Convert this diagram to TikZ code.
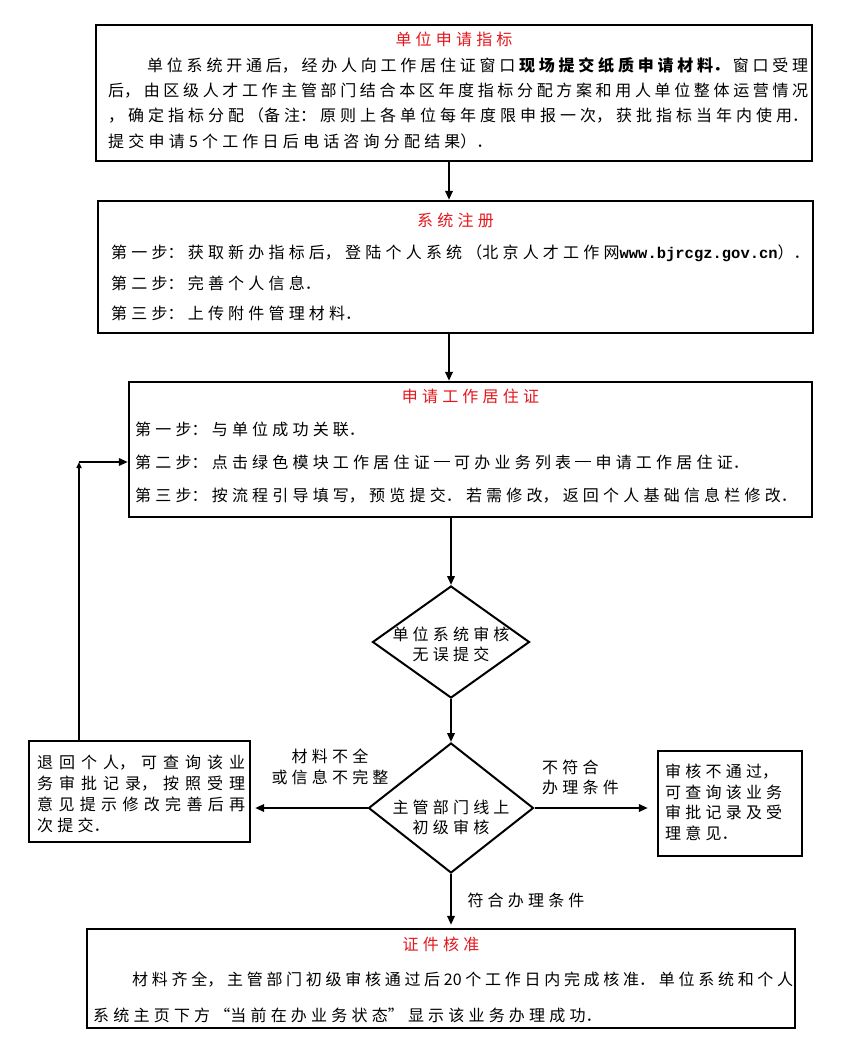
\documentclass[tikz,border=0pt]{standalone}
\usepackage{fontspec}
\setmainfont{Noto Sans CJK SC}
\newfontfamily\urlf{Liberation Mono}
\usetikzlibrary{arrows.meta,shapes.geometric}
\XeTeXlinebreaklocale "zh"
\XeTeXlinebreakskip=4.2pt plus 3pt minus 2.5pt
\definecolor{titlered}{RGB}{228,22,28}
\setlength{\parindent}{0pt}
\newcommand\jline[1]{\leftskip=0pt\rightskip=0pt\parfillskip=0pt\relax #1\par}
\newcommand\rline[1]{\leftskip=0pt\rightskip=0pt plus 1fil\parfillskip=0pt plus 1fil\relax #1\par}
\newcommand\ctrline[1]{\leftskip=0pt plus 1fil\rightskip=0pt plus 1fil\parfillskip=0pt\relax #1\par}
\newcommand\cjkgap{\hskip 4.2pt plus 3pt minus 2.5pt\relax}
\newcommand\cjkdash{\rule[5.6pt]{16pt}{1pt}}
\tikzset{
  box/.style={draw, rectangle, line width=2.4pt, inner sep=0pt},
  dia/.style={draw, diamond, line width=2pt, inner sep=0pt},
  arr/.style={line width=2pt, -{Triangle[length=9pt,width=7.5pt]}},
  txt/.style={inner sep=0pt, anchor=west, text width=#1},
  txt/.default=700pt,
  ctxt/.style={inner sep=0pt, anchor=center, text width=#1},
  ctxt/.default=400pt,
  every node/.style={font=\fontsize{16}{19}\selectfont}
}
\begin{document}
\begin{tikzpicture}[x=1pt,y=-1pt]
\useasboundingbox[fill=white] (0,0) rectangle (842,1046);

% ---- box 1
\node[box, minimum width=716pt, minimum height=136pt] (b1) at (454,93) {};
\node[ctxt] (b1t) at (454,39) {\ctrline{\color{titlered}单位申请指标}};
\node[txt=661pt] (b1a) at (147,65) {\jline{单位系统开通后，经办人向工作居住证窗口\cjkgap{\bfseries 现场提交纸质申请材料．}\cjkgap 窗口受理}};
\node[txt=700pt] (b1b) at (108,91) {\jline{后，由区级人才工作主管部门结合本区年度指标分配方案和用人单位整体运营情况}};
\node[txt=700pt] (b1c) at (108,116) {\jline{，确定指标分配（备注：原则上各单位每年度限申报一次，获批指标当年内使用．}};
\node[txt] (b1d) at (108,141) {\rline{提交申请5个工作日后电话咨询分配结果）．}};

% ---- box 2
\node[box, minimum width=715pt, minimum height=132pt] (b2) at (455.5,267) {};
\node[ctxt] (b2t) at (455.5,220) {\ctrline{\color{titlered}系统注册}};
\node[txt] (b2a) at (111,253) {\rline{第一步：获取新办指标后，登陆个人系统（北京人才工作网{\urlf\bfseries\fontsize{15.5}{18}\selectfont www.bjrcgz.gov.cn}）．}};
\node[txt] (b2b) at (111,283) {\rline{第二步：完善个人信息．}};
\node[txt] (b2c) at (111,313) {\rline{第三步：上传附件管理材料．}};

% ---- box 3
\node[box, minimum width=683pt, minimum height=135pt] (b3) at (470.5,449.5) {};
\node[ctxt] (b3t) at (470.5,396) {\ctrline{\color{titlered}申请工作居住证}};
\node[txt] (b3a) at (135,429) {\rline{第一步：与单位成功关联．}};
\node[txt] (b3b) at (135,462) {\rline{第二步：点击绿色模块工作居住证\cjkgap\cjkdash\cjkgap 可办业务列表\cjkgap\cjkdash\cjkgap 申请工作居住证．}};
\node[txt] (b3c) at (135,496) {\rline{第三步：按流程引导填写，预览提交．若需修改，返回个人基础信息栏修改．}};

% ---- diamond 1
\node[dia, minimum width=157pt, minimum height=112pt] (d1) at (451,642) {};
\node[ctxt=150pt] (d1a) at (451,634) {\ctrline{单位系统审核}};
\node[ctxt=150pt] (d1b) at (451,654) {\ctrline{无误提交}};

% ---- diamond 2
\node[dia, minimum width=165pt, minimum height=130pt] (d2) at (451,808) {};
\node[ctxt=150pt] (d2a) at (451,807) {\ctrline{主管部门线上}};
\node[ctxt=150pt] (d2b) at (451,827) {\ctrline{初级审核}};

% ---- left box
\node[box, minimum width=221pt, minimum height=101pt] (lb) at (139.5,791.5) {};
\node[txt=208pt] (lba) at (37,763) {\jline{退回个人，可查询该业}};
\node[txt=208pt] (lbb) at (37,784) {\jline{务审批记录，按照受理}};
\node[txt=208pt] (lbc) at (37,804) {\jline{意见提示修改完善后再}};
\node[txt=208pt] (lbd) at (37,825) {\rline{次提交．}};

% ---- right box
\node[box, minimum width=144pt, minimum height=105pt] (rb) at (730,803.5) {};
\node[txt=135pt] (rba) at (665,772) {\rline{审核不通过，}};
\node[txt=135pt] (rbb) at (665,792) {\rline{可查询该业务}};
\node[txt=135pt] (rbc) at (665,812) {\rline{审批记录及受}};
\node[txt=135pt] (rbd) at (665,833) {\rline{理意见．}};

% ---- bottom box
\node[box, minimum width=708pt, minimum height=99pt] (bb) at (441,978.5) {};
\node[ctxt] (bbt) at (441,944) {\ctrline{\color{titlered}证件核准}};
\node[txt=661pt] (bba) at (132,980) {\jline{材料齐全，主管部门初级审核通过后20个工作日内完成核准．单位系统和个人}};
\node[txt] (bbb) at (93,1015) {\rline{系统主页下方“当前在办业务状态”显示该业务办理成功．}};

% ---- edge labels
\node[ctxt=150pt] (l1a) at (330,756) {\ctrline{材料不全}};
\node[ctxt=150pt] (l1b) at (330,777) {\ctrline{或信息不完整}};
\node[txt=120pt] (l2a) at (542,767) {\rline{不符合}};
\node[txt=120pt] (l2b) at (542,787) {\rline{办理条件}};
\node[ctxt=150pt] (l3) at (526,900) {\ctrline{符合办理条件}};

% ---- connectors
\coordinate (cx) at (449,0);
\draw[arr] (b1.south -| cx) -- (b2.north -| cx);
\draw[arr] (b2.south -| cx) -- (b3.north -| cx);
\draw[arr] (b3.south -| d1.north) -- (d1.north);
\draw[arr] (d1.south) -- (d2.north);
\draw[arr, shorten >=4pt] (d2.west) -- (d2.west -| lb.east);
\draw[arr, shorten >=9pt] (d2.east) -- (d2.east -| rb.west);
\draw[arr, shorten >=3pt] (d2.south) -- (d2.south |- bb.north);
\coordinate (fb) at (79,462);
\draw[line width=2pt, -{Triangle[length=6pt,width=5pt]}] (lb.north -| fb) -- (fb);
\draw[arr] (fb) -- (fb -| b3.west);
\end{tikzpicture}
\end{document}
